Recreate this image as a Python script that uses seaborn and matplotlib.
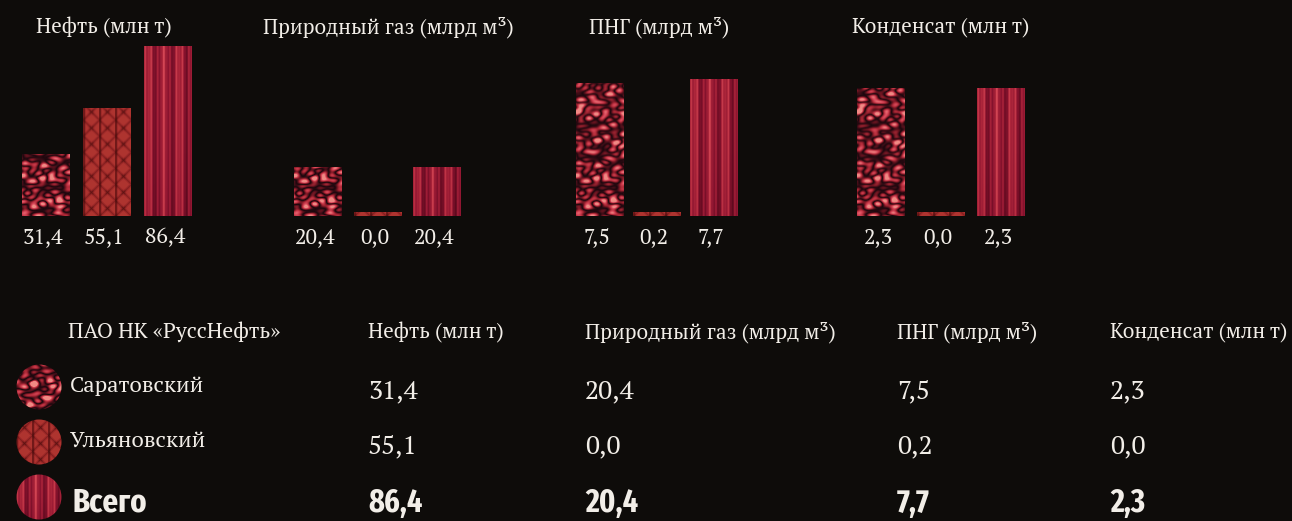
import numpy as np
import pandas as pd
import matplotlib
matplotlib.use("Agg")
import matplotlib.pyplot as plt
import seaborn as sns
from matplotlib.colors import LinearSegmentedColormap
from matplotlib.patches import Circle

# data
resources = ["Нефть (млн т)", "Природный газ (млрд м³)", "ПНГ (млрд м³)", "Конденсат (млн т)"]
regions = ["Саратовский", "Ульяновский", "Всего"]
saratov = [31.4, 20.4, 7.5, 2.3]
ulyanov = [55.1, 0.0, 0.2, 0.0]
total = [86.4, 20.4, 7.7, 2.3]
company = "ПАО НК «РуссНефть»"

# each small panel has its own scale
panel_ymax = [89.4, 73.3, 9.9, 3.16]

BG = "#0e0c0a"
FG = "#f2eee8"
SERIF = ["PT Serif", "Liberation Serif", "DejaVu Serif"]
BOLD = ["Fira Sans Extra Condensed", "Fira Sans Condensed", "Liberation Sans Narrow", "Roboto"]

sns.set_theme(style="dark", rc={"axes.facecolor": BG, "figure.facecolor": BG})
plt.rcParams["font.family"] = SERIF

# textures (pure styling, functions of pixel position)
cm_sar = LinearSegmentedColormap.from_list(
    "sar", ["#0c0406", "#2a0a12", "#6a1420", "#b02a38", "#d8485a", "#f08a84"])
cm_uly = LinearSegmentedColormap.from_list("uly", ["#300808", "#621414", "#982626", "#b83a34"])
cm_tot = LinearSegmentedColormap.from_list("tot", ["#5e0a1e", "#8c1430", "#b0283c", "#d84a58"])

angles = [0.3, 1.1, 1.9, 2.6, 0.7, 2.2, 1.5]
waves = [13.0, 17.5, 9.3, 21.0, 11.1, 15.5, 7.4]
phases = [0.0, 1.3, 2.1, 0.7, 2.9, 1.8, 0.4]


def texture(kind, w, h):
    x, y = np.meshgrid(np.arange(w, dtype=float), np.arange(h, dtype=float))
    if kind == 0:
        v = np.zeros_like(x)
        for a, lam, p in zip(angles, waves, phases):
            v += np.sin(2 * np.pi * (x * np.cos(a) + y * np.sin(a)) / lam + p)
        v += 2.0 * np.sin(x / 5.0 + 2 * np.cos(y / 6.0)) * np.cos(y / 8.0 + 1.5 * np.sin(x / 7.0))
        v = np.abs(v)
        v = (v - v.min()) / (v.max() - v.min())
        return cm_sar(np.clip(0.12 + v * 1.5, 0, 1))
    if kind == 1:
        xm = np.mod(x, 16)
        ym = np.mod(y, 16)
        diag = np.minimum(np.abs(xm - ym), np.abs(xm + ym - 16))
        v = 0.55 + 0.35 * np.clip(diag / 3.0, 0, 1)
        v -= 0.25 * np.exp(-((xm - 8) ** 2 + (ym - 8) ** 2) / 6.0)
        v *= 0.3 + 0.7 * np.clip(np.abs(xm - 0.5) / 2.0, 0, 1)
        return cm_uly(np.clip(v, 0, 1))
    v = (0.5 + 0.22 * np.sin(2 * np.pi * x / 15.5) + 0.18 * np.sin(2 * np.pi * x / 6.3 + 1.2)
         + 0.1 * np.sin(2 * np.pi * x / 3.1))
    v = v - 0.12 * (y / max(h, 1)) ** 2
    return cm_tot(np.clip(v, 0, 1))


fig = plt.figure(figsize=(12.92, 5.21), dpi=100)
fig.patch.set_facecolor(BG)

# overlay in pixel coordinates for the titles, the table and the legend discs
ov = fig.add_axes([0, 0, 1, 1])
ov.set_xlim(0, 1292)
ov.set_ylim(521, 0)
ov.axis("off")
ov.patch.set_alpha(0)

# top panels: left edge px, pitch px, title centre px
panel_left = [15.5, 288.5, 571.5, 851]
panel_pitch = [61, 59.5, 57, 60]
title_x = [104, 388, 659, 941]
base_px, top_px = 216, 40
ax_h = (base_px - top_px) / 521

for k, res in enumerate(resources):
    vals = np.array([saratov[k], ulyanov[k], total[k]])
    ymax = panel_ymax[k]
    shown = np.maximum(vals, ymax * 0.022)
    pitch = panel_pitch[k]
    ax = fig.add_axes([panel_left[k] / 1292, (521 - base_px) / 521, 3 * pitch / 1292, ax_h])
    df = pd.DataFrame({"region": regions, "value": shown})
    sns.barplot(data=df, x="region", y="value", ax=ax, width=48 / pitch,
                color="#a02030", saturation=1, linewidth=0)
    ax.set_xlim(-0.5, 2.5)
    ax.set_ylim(0, ymax)
    ax.axis("off")
    hpx = base_px - top_px
    for j, bar in enumerate(ax.patches):
        x0 = bar.get_x()
        tex = texture(j, 48, hpx)
        im = ax.imshow(tex, extent=(x0, x0 + bar.get_width(), 0, ymax),
                       aspect="auto", interpolation="bilinear", zorder=3)
        im.set_clip_path(bar)
    for j, v in enumerate(vals):
        ax.annotate(f"{v:.1f}".replace(".", ","), xy=(j, 0), xytext=(-2, -8),
                    textcoords="offset points", ha="center", va="top",
                    color=FG, fontsize=15.5, annotation_clip=False)
    ov.text(title_x[k], 27, res, ha="center", va="center", color=FG, fontsize=15)

# table
col_x = [368, 585, 897, 1110]
row_y = [386, 441, 503]
val_dy = [5, 5, 0]

ov.text(68, 332, company, ha="left", va="center", color=FG, fontsize=15.5)
for k, res in enumerate(resources):
    ov.text(col_x[k], 332, res, ha="left", va="center", color=FG, fontsize=15)

rows = [saratov, ulyanov, total]
for r, name in enumerate(regions):
    y = row_y[r]
    cy = [387, 442, 497][r]
    disc = Circle((39, cy), 22.5, transform=ov.transData)
    tex = texture(r, 46, 46)
    im = ov.imshow(tex, extent=(16, 62, cy + 23, cy - 23), aspect="auto",
                   interpolation="bilinear", zorder=2)
    im.set_clip_path(disc)
    if r < 2:
        ov.text(70, y, name, ha="left", va="center", color=FG, fontsize=16)
        for k in range(len(resources)):
            ov.text(col_x[k], y + val_dy[r], f"{rows[r][k]:.1f}".replace(".", ","),
                    ha="left", va="center", color=FG, fontsize=19)
    else:
        ov.text(73, y, name, ha="left", va="center", color=FG, fontsize=24,
                family=BOLD, fontweight="bold")
        for k in range(len(resources)):
            ov.text(col_x[k], y, f"{rows[r][k]:.1f}".replace(".", ","),
                    ha="left", va="center", color=FG, fontsize=23.5,
                    family=BOLD, fontweight="bold")

ov.set_xlim(0, 1292)
ov.set_ylim(521, 0)

fig.savefig("out.png", dpi=100, facecolor=BG)
